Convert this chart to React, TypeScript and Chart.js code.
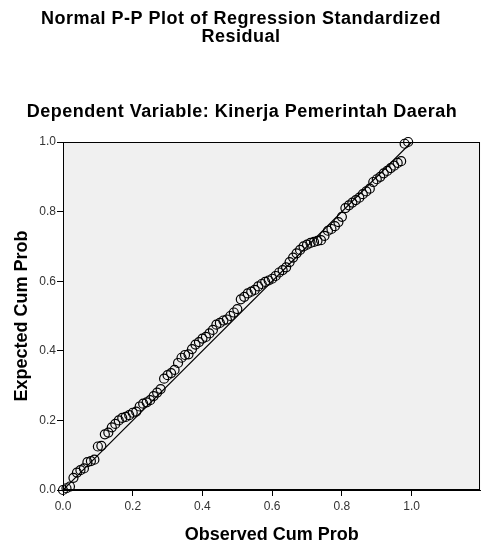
import React, { useEffect, useRef } from "react";
import { Chart, registerables } from "chart.js";

Chart.register(...registerables);

const TITLE_LINES = ["Normal P-P Plot of Regression Standardized", "Residual"];
const SUBTITLE = "Dependent Variable: Kinerja Pemerintah Daerah";
const X_LABEL = "Observed Cum Prob";
const Y_LABEL = "Expected Cum Prob";
const TICK_VALUES = [0, 0.2, 0.4, 0.6, 0.8, 1.0];

const observed = [
  0.00, 0.01, 0.02, 0.03, 0.04, 0.05, 0.06, 0.07, 0.08, 0.09,
  0.10, 0.11, 0.12, 0.13, 0.14, 0.15, 0.16, 0.17, 0.18, 0.19,
  0.20, 0.21, 0.22, 0.23, 0.24, 0.25, 0.26, 0.27, 0.28, 0.29,
  0.30, 0.31, 0.32, 0.33, 0.34, 0.35, 0.36, 0.37, 0.38, 0.39,
  0.40, 0.41, 0.42, 0.43, 0.44, 0.45, 0.46, 0.47, 0.48, 0.49,
  0.50, 0.51, 0.52, 0.53, 0.54, 0.55, 0.56, 0.57, 0.58, 0.59,
  0.60, 0.61, 0.62, 0.63, 0.64, 0.65, 0.66, 0.67, 0.68, 0.69,
  0.70, 0.71, 0.72, 0.73, 0.74, 0.75, 0.76, 0.77, 0.78, 0.79,
  0.80, 0.81, 0.82, 0.83, 0.84, 0.85, 0.86, 0.87, 0.88, 0.89,
  0.90, 0.91, 0.92, 0.93, 0.94, 0.95, 0.96, 0.97, 0.98, 0.99,
];

const expected = [
  0.000, 0.005, 0.010, 0.035, 0.050, 0.057, 0.062, 0.080, 0.083, 0.087,
  0.125, 0.127, 0.160, 0.165, 0.180, 0.190, 0.200, 0.207, 0.210, 0.215,
  0.222, 0.225, 0.240, 0.248, 0.252, 0.258, 0.270, 0.280, 0.290, 0.320,
  0.330, 0.336, 0.345, 0.365, 0.380, 0.388, 0.390, 0.405, 0.418, 0.425,
  0.435, 0.440, 0.450, 0.460, 0.475, 0.480, 0.487, 0.490, 0.500, 0.510,
  0.520, 0.548, 0.555, 0.565, 0.570, 0.575, 0.585, 0.592, 0.598, 0.602,
  0.607, 0.615, 0.625, 0.632, 0.640, 0.655, 0.668, 0.680, 0.690, 0.700,
  0.705, 0.710, 0.713, 0.716, 0.718, 0.730, 0.745, 0.750, 0.758, 0.770,
  0.785, 0.810, 0.818, 0.826, 0.833, 0.840, 0.850, 0.858, 0.866, 0.885,
  0.893, 0.900, 0.910, 0.917, 0.925, 0.932, 0.940, 0.945, 0.995, 1.000,
];

const REF_X = [0, 1];
const REF_Y = [0, 1];

const FONT = 'Arial, "Liberation Sans", sans-serif';

const backgroundPlugin = {
  id: "ppBackground",
  beforeDraw(chart: any) {
    const { ctx, chartArea } = chart;
    ctx.save();
    ctx.fillStyle = "#ffffff";
    ctx.fillRect(0, 0, chart.width, chart.height);
    ctx.fillStyle = "#f0f0f0";
    ctx.fillRect(chartArea.left, chartArea.top, chartArea.right - chartArea.left, chartArea.bottom - chartArea.top);
    ctx.restore();
  },
  beforeDatasetsDraw(chart: any) {
    const { ctx, chartArea } = chart;
    ctx.save();
    ctx.strokeStyle = "#000";
    ctx.lineWidth = 1;
    ctx.strokeRect(
      Math.round(chartArea.left) + 0.5,
      Math.round(chartArea.top) + 0.5,
      Math.round(chartArea.right - chartArea.left) - 1,
      Math.round(chartArea.bottom - chartArea.top) - 1
    );
    ctx.restore();
  },
  afterDraw(chart: any) {
    const { ctx } = chart;
    ctx.save();
    ctx.fillStyle = "#000";
    ctx.textAlign = "center";
    ctx.textBaseline = "alphabetic";
    try {
      (ctx as any).letterSpacing = "0.5px";
    } catch (e) {}
    ctx.font = `bold 18px ${FONT}`;
    ctx.fillText(TITLE_LINES[0], 241, 24);
    ctx.fillText(TITLE_LINES[1], 241, 42);
    ctx.fillText(SUBTITLE, 242, 117);
    ctx.restore();
  },
};

export default function App() {
  const canvasRef = useRef<HTMLCanvasElement | null>(null);

  useEffect(() => {
    if (!canvasRef.current) return;
    const points = observed.map((x, i) => ({ x, y: expected[i] }));
    const refLine = REF_X.map((x, i) => ({ x, y: REF_Y[i] }));
    const chart = new Chart(canvasRef.current, {
      type: "scatter",
      data: {
        datasets: [
          {
            type: "line",
            data: refLine,
            borderColor: "#000",
            borderWidth: 1.2,
            pointRadius: 0,
            fill: false,
            order: 2,
          } as any,
          {
            data: points,
            pointStyle: "circle",
            pointRadius: 4.5,
            pointBorderWidth: 1.2,
            borderColor: "#000",
            backgroundColor: "rgba(0,0,0,0)",
            pointBackgroundColor: "rgba(0,0,0,0)",
            pointBorderColor: "#000",
            clip: false,
            order: 1,
          } as any,
        ],
      },
      options: {
        responsive: false,
        animation: false,
        events: [],
        layout: { padding: { top: 142, right: 4, bottom: 0, left: 0 } },
        plugins: {
          legend: { display: false },
          tooltip: { enabled: false },
          title: { display: false },
        },
        scales: {
          x: {
            type: "linear",
            min: 0,
            max: 1.197,
            afterFit(scale: any) {
              scale.height = 54;
            },
            afterBuildTicks(scale: any) {
              scale.ticks = TICK_VALUES.map((v) => ({ value: v }));
            },
            ticks: {
              color: "#333",
              font: { family: FONT, size: 12 },
              padding: 3,
              maxRotation: 0,
              callback: (v: any) => Number(v).toFixed(1),
            },
            grid: {
              display: true,
              drawOnChartArea: false,
              drawTicks: true,
              tickLength: 6,
              color: "#000",
              lineWidth: 1,
            },
            border: { display: true, color: "#000", width: 1 },
            title: {
              display: true,
              text: X_LABEL,
              color: "#000",
              font: { family: FONT, size: 18, weight: "bold", lineHeight: 1 },
              padding: { top: 0, bottom: 0 },
            },
          },
          y: {
            type: "linear",
            min: 0,
            max: 1,
            afterFit(scale: any) {
              scale.width = 63;
            },
            afterBuildTicks(scale: any) {
              scale.ticks = TICK_VALUES.map((v) => ({ value: v }));
            },
            ticks: {
              color: "#333",
              font: { family: FONT, size: 12 },
              padding: 1,
              callback: (v: any) => Number(v).toFixed(1),
            },
            grid: {
              display: true,
              drawOnChartArea: false,
              drawTicks: true,
              tickLength: 6,
              color: "#000",
              lineWidth: 1,
            },
            border: { display: true, color: "#000", width: 1 },
            title: {
              display: true,
              text: Y_LABEL,
              color: "#000",
              font: { family: FONT, size: 18, weight: "bold", lineHeight: 1 },
              padding: { top: 13, bottom: 0 },
            },
          },
        },
      } as any,
      plugins: [backgroundPlugin],
    });
    return () => chart.destroy();
  }, []);

  return (
    <div style={{ position: "fixed", left: 0, top: 0, width: 486, height: 544, background: "#fff" }}>
      <canvas ref={canvasRef} width={486} height={544} style={{ display: "block", width: 486, height: 544 }} />
    </div>
  );
}
